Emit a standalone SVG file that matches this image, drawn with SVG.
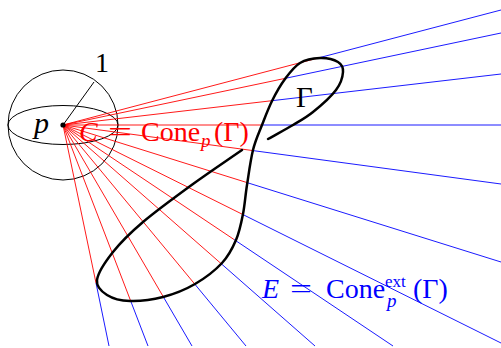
<svg xmlns="http://www.w3.org/2000/svg" width="501" height="348" viewBox="0 0 501 348">
<style>
.red{stroke:#ff0000;stroke-width:0.9;fill:none}
.blue{stroke:#0000ff;stroke-width:0.9;fill:none}
.thin{stroke:#000;stroke-width:1;fill:none}
.lbl{font-family:"Liberation Serif","DejaVu Serif",serif;font-size:28px}
.it{font-style:italic}
</style>
<rect width="501" height="348" fill="#fff"/>
<g id="sphere">
<circle class="thin" cx="63" cy="125" r="55"/>
<ellipse class="thin" cx="63" cy="125" rx="55" ry="19.5"/>
<line class="thin" x1="63" y1="125" x2="94" y2="82"/>
<text class="lbl" x="102" y="72" text-anchor="middle">1</text>
</g>
<g id="connectors">
<g id="cone-ext">
<line class="blue" x1="317" y1="58.3" x2="501" y2="10"/>
<line class="blue" x1="285" y1="78.4" x2="501" y2="33"/>
<line class="blue" x1="272" y1="100.7" x2="501" y2="74"/>
<line class="blue" x1="262" y1="125" x2="501" y2="125"/>
<line class="blue" x1="253" y1="150.6" x2="501" y2="184"/>
<line class="blue" x1="248" y1="182.9" x2="501" y2="262"/>
<line class="blue" x1="243" y1="214.6" x2="501" y2="343"/>
<line class="blue" x1="234" y1="239.5" x2="393" y2="346"/>
<line class="blue" x1="222" y1="264.4" x2="315" y2="346"/>
<line class="blue" x1="195" y1="284.4" x2="246" y2="346"/>
<line class="blue" x1="163" y1="296.3" x2="192" y2="346"/>
<line class="blue" x1="131" y1="301.8" x2="148" y2="346"/>
<line class="blue" x1="96" y1="283" x2="109" y2="346"/>
</g>
<g id="cone">
<line class="red" x1="63" y1="125" x2="317" y2="58.3"/>
<line class="red" x1="63" y1="125" x2="285" y2="78.4"/>
<line class="red" x1="63" y1="125" x2="272" y2="100.7"/>
<line class="red" x1="63" y1="125" x2="262" y2="125"/>
<line class="red" x1="63" y1="125" x2="253" y2="150.6"/>
<line class="red" x1="63" y1="125" x2="248" y2="182.9"/>
<line class="red" x1="63" y1="125" x2="243" y2="214.6"/>
<line class="red" x1="63" y1="125" x2="234" y2="239.5"/>
<line class="red" x1="63" y1="125" x2="222" y2="264.4"/>
<line class="red" x1="63" y1="125" x2="195" y2="284.4"/>
<line class="red" x1="63" y1="125" x2="163" y2="296.3"/>
<line class="red" x1="63" y1="125" x2="131" y2="301.8"/>
<line class="red" x1="63" y1="125" x2="96" y2="283"/>
</g>
</g>
<g id="gamma">
<path fill="none" stroke="#000" stroke-width="2.5" stroke-linecap="round" stroke-linejoin="round" d="M242,150 C225.7,161.3 209.5,172 193,184 C176.5,196 156.3,210.7 143,222 C129.7,233.3 120.7,242.3 113,252 C105.3,261.7 98,272.8 97,280 C96,287.2 101.5,291.5 107,295 C112.5,298.5 120.7,300.7 130,301 C139.3,301.3 152.2,299.8 163,297 C173.8,294.2 185.2,289.7 195,284 C204.8,278.3 215.2,270.3 222,263 C228.8,255.7 232.5,248.2 236,240 C239.5,231.8 241.2,223.2 243,214 C244.8,204.8 245.3,195.7 247,185 C248.7,174.3 250.5,160 253,150 C255.5,140 258.8,133.2 262,125 C265.2,116.8 268.2,108.7 272,101 C275.8,93.3 280.3,85.3 285,79 C289.7,72.7 294.2,66.5 300,63 C305.8,59.5 313.7,58.2 320,58 C326.3,57.8 334.2,59.7 338,62 C341.8,64.3 343.3,67.3 343,72 C342.7,76.7 341,83.3 336,90 C331,96.7 320.2,106.2 313,112 C305.8,117.8 300.5,120.5 293,125 C285.5,129.5 276.3,134.3 268,139"/>
<text class="lbl" x="296" y="107" style="font-size:29px">Γ</text>
</g>
<g id="p">
<circle cx="63" cy="125" r="2.6" fill="#000"/>
<text class="lbl it" x="34" y="133" style="font-size:30px">p</text>
</g>
<g id="label-C" fill="#ff0000">
<text class="lbl"><tspan class="it" x="79" y="141">C</tspan><tspan x="108" y="141" textLength="24" lengthAdjust="spacingAndGlyphs">=</tspan><tspan x="141" y="141">Cone</tspan><tspan class="it" x="201" y="147" style="font-size:19px">p</tspan><tspan x="214" y="141">(Γ)</tspan></text>
</g>
<g id="label-E" fill="#0000ff">
<text class="lbl"><tspan class="it" x="262" y="298">E</tspan><tspan x="290" y="298" textLength="22" lengthAdjust="spacingAndGlyphs">=</tspan><tspan x="326" y="298">Cone</tspan><tspan x="385" y="287" style="font-size:17px">ext</tspan><tspan class="it" x="387" y="307" style="font-size:19px">p</tspan><tspan x="413" y="298">(Γ)</tspan></text>
</g>
</svg>
